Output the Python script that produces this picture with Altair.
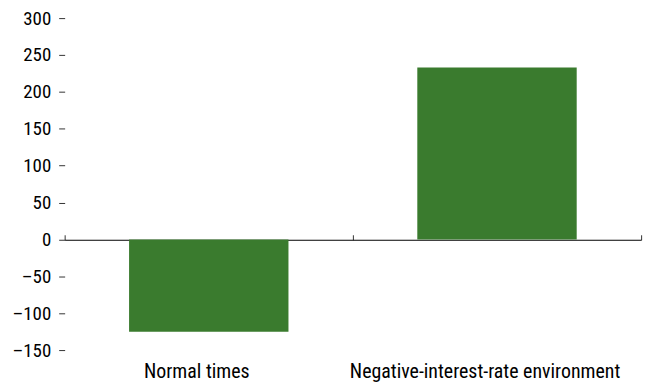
import altair as alt
import pandas as pd

categories = ["Normal times", "Negative-interest-rate environment"]
values = [-125, 233]
y_ticks = [-150, -100, -50, 0, 50, 100, 150, 200, 250, 300]

df = pd.DataFrame({"cat": categories, "val": values})

FONT = "'Roboto Condensed', 'DejaVu Sans Condensed', Roboto, sans-serif"
FS = 20
W, H = 580, 334

xscale = alt.Scale(paddingInner=0.447, paddingOuter=0.2235)
xscale_full = alt.Scale(paddingInner=0, paddingOuter=0)
yscale = alt.Scale(domain=[-150, 300], nice=False, zero=False)

yaxis = alt.Axis(title=None, values=y_ticks, domain=False, grid=False,
                 tickSize=6, tickColor="#333", labelPadding=8,
                 labelFontSize=19, labelFont=FONT, labelColor="#000",
                 labelOverlap=False, labelLimit=0, labelBound=False,
                 labelExpr="datum.value < 0 ? '\u2013' + format(-datum.value, 'd') : format(datum.value, 'd')")

bars = alt.Chart(df).mark_bar(color="#3a7b2e").encode(
    x=alt.X("cat:N", sort=categories, scale=xscale,
            axis=alt.Axis(title=None, orient="bottom", domain=False, ticks=False,
                          labelAngle=0, labelPadding=12, labelFontSize=FS,
                          labelFont=FONT, labelColor="#000", labelLimit=0,
                          labelOverlap=False, labelOffset=-12)),
    y=alt.Y("val:Q", scale=yscale, axis=yaxis),
)

zero_axis = alt.Chart(df).mark_bar(opacity=0).encode(
    x=alt.X("cat:N", sort=categories, scale=xscale_full,
            axis=alt.Axis(title=None, orient="top", labels=False, domain=True,
                          domainColor="#000", domainWidth=1, ticks=True,
                          tickBand="extent", tickSize=5, tickColor="#333",
                          offset=-223)),
    y=alt.Y("val:Q", scale=yscale, axis=yaxis),
)

chart = alt.layer(bars, zero_axis).resolve_scale(x="independent").resolve_axis(
    x="independent").properties(
    width=W, height=H,
    autosize=alt.AutoSizeParams(type="none"),
    padding={"left": 57, "top": 9, "right": 20, "bottom": 40},
).configure_view(stroke=None)

chart.save("out.html", embed_options={"renderer": "svg", "actions": False})
